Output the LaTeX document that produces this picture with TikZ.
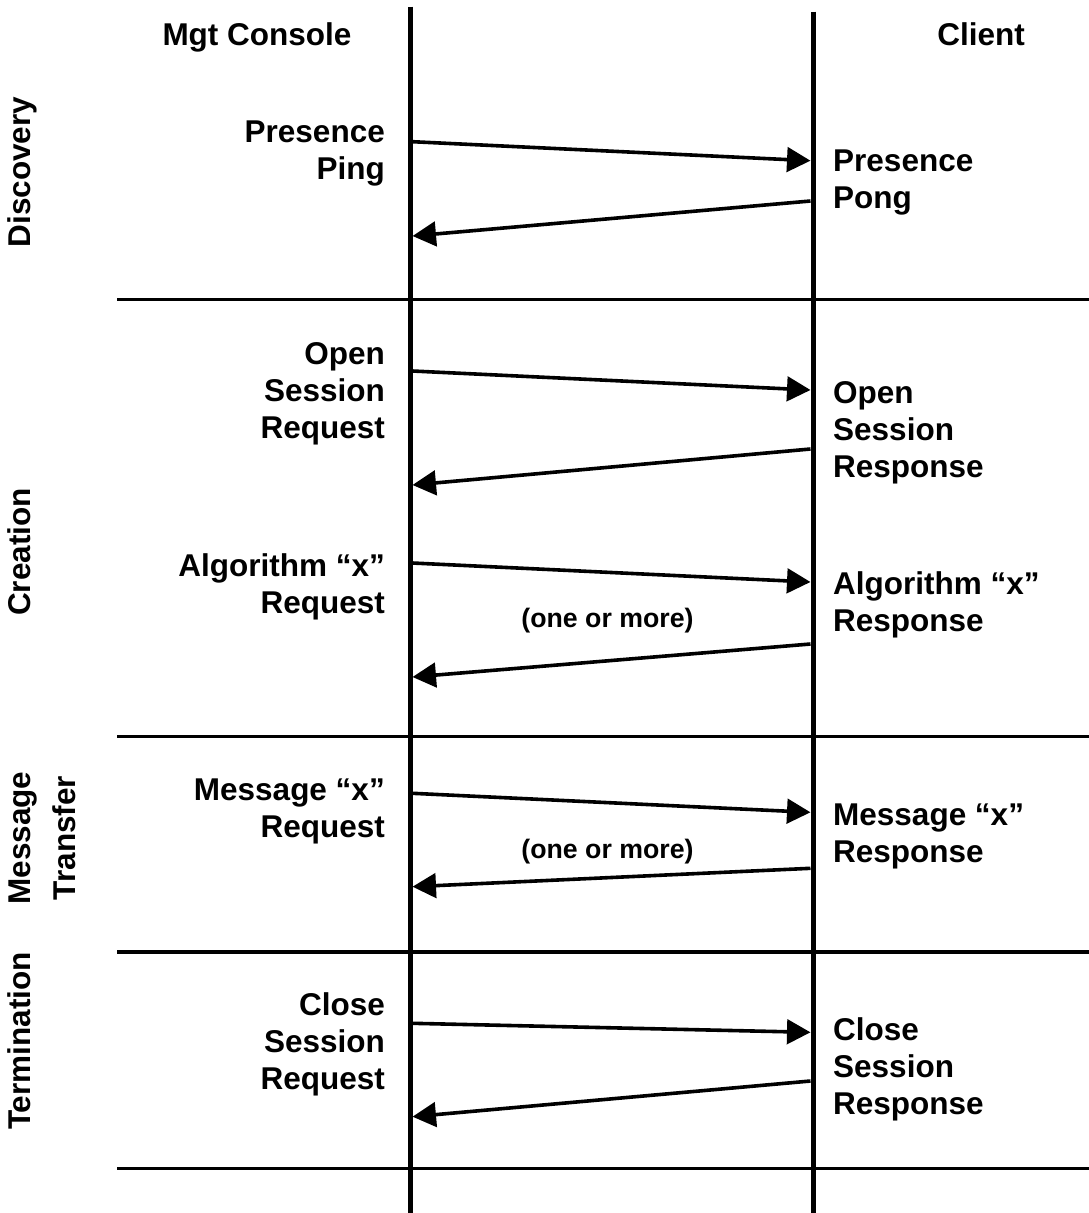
\documentclass[tikz,border=0pt]{standalone}
\usepackage{fontspec}
\setmainfont{Liberation Sans}
\usetikzlibrary{arrows.meta}
\newcommand\diagbig{\bfseries\fontsize{31.5}{37}\selectfont}
\newcommand\diagsmall{\bfseries\fontsize{26.7}{32}\selectfont}
\begin{document}
\begin{tikzpicture}[x=1pt,y=-1pt,
  lifeline/.style={line width=5pt},
  divider/.style={line width=3.3pt},
  msg/.style={line width=3.6pt,-{Triangle[length=23.5pt,width=24.5pt]}},
  lblL/.style={font=\diagbig,inner sep=0pt,align=right,anchor=east},
  lblR/.style={font=\diagbig,inner sep=0pt,align=left,anchor=west},
  title/.style={font=\diagbig,inner sep=0pt,anchor=base},
  phase/.style={font=\diagbig,inner sep=0pt,rotate=90,anchor=base},
  note/.style={font=\diagsmall,inner sep=0pt,anchor=base}]
\useasboundingbox (0,0) rectangle (1089,1213);

% lifelines
\coordinate (mgtTop) at (410,6.5);
\coordinate (mgtBot) at (410,1213);
\coordinate (cliTop) at (813,11.5);
\coordinate (cliBot) at (813,1213);
\draw[lifeline] (mgtTop) -- (mgtBot);
\draw[lifeline] (cliTop) -- (cliBot);

% phase dividers
\coordinate (d1a) at (117,299.3);  \coordinate (d1b) at (1089,299.3);
\coordinate (d2a) at (117,736.5);  \coordinate (d2b) at (1089,736.5);
\coordinate (d3a) at (117,952);    \coordinate (d3b) at (1089,952);
\coordinate (d4a) at (117,1168.3); \coordinate (d4b) at (1089,1168.3);
\draw[divider] (d1a) -- (d1b);
\draw[divider] (d2a) -- (d2b);
\draw[divider] (d3a) -- (d3b);
\draw[divider] (d4a) -- (d4b);

% titles
\node[title] (tMgt) at (257,45.5) {Mgt Console};
\node[title] (tCli) at (981,45.5) {Client};

% phase labels
\node[phase] (pDisc) at (30.6,172) {Discovery};
\node[phase] (pCrea) at (30.6,552) {Creation};
\node[font=\diagbig,inner sep=0pt,rotate=90,align=center,anchor=center] (pMsg) at (45.7,838) {Message\strut\\[8pt]Transfer\strut};
\node[phase] (pTerm) at (30.6,1041) {Termination};

% left labels
\node[lblL] (lPing) at (385,154) {Presence\strut\\Ping\strut};
\node[lblL] (lOpen) at (385,394.4) {Open\strut\\Session\strut\\Request\strut};
\node[lblL] (lAlg) at (385,587.4) {Algorithm “x”\strut\\Request\strut};
\node[lblL] (lMsg) at (385,812) {Message “x”\strut\\Request\strut};
\node[lblL] (lClose) at (385,1045) {Close\strut\\Session\strut\\Request\strut};

% right labels
\node[lblR] (rPong) at (833,183) {Presence\strut\\Pong\strut};
\node[lblR] (rOpen) at (833,433) {Open\strut\\Session\strut\\Response\strut};
\node[lblR] (rAlg) at (833,606) {Algorithm “x”\strut\\Response\strut};
\node[lblR] (rMsg) at (833,836.5) {Message “x”\strut\\Response\strut};
\node[lblR] (rClose) at (833,1070) {Close\strut\\Session\strut\\Response\strut};

% notes
\node[note] (nAlg) at (607.5,627) {(one or more)};
\node[note] (nMsg) at (607.5,858.7) {(one or more)};

% message end points
\coordinate (m1a) at (412.5,141.7);  \coordinate (m1b) at (810.5,160.7);
\coordinate (m2a) at (810.5,201);    \coordinate (m2b) at (412.5,236);
\coordinate (m3a) at (412.5,371);    \coordinate (m3b) at (810.5,390);
\coordinate (m4a) at (810.5,449);    \coordinate (m4b) at (412.5,485);
\coordinate (m5a) at (412.5,563);    \coordinate (m5b) at (810.5,582);
\coordinate (m6a) at (810.5,644);    \coordinate (m6b) at (412.5,677);
\coordinate (m7a) at (412.5,793.3);  \coordinate (m7b) at (810.5,812.3);
\coordinate (m8a) at (810.5,868.3);  \coordinate (m8b) at (412.5,886.7);
\coordinate (m9a) at (412.5,1023.3); \coordinate (m9b) at (810.5,1032.3);
\coordinate (m10a) at (810.5,1081);  \coordinate (m10b) at (412.5,1116.7);

\draw[msg] (m1a) -- (m1b);
\draw[msg] (m2a) -- (m2b);
\draw[msg] (m3a) -- (m3b);
\draw[msg] (m4a) -- (m4b);
\draw[msg] (m5a) -- (m5b);
\draw[msg] (m6a) -- (m6b);
\draw[msg] (m7a) -- (m7b);
\draw[msg] (m8a) -- (m8b);
\draw[msg] (m9a) -- (m9b);
\draw[msg] (m10a) -- (m10b);
\end{tikzpicture}
\end{document}
